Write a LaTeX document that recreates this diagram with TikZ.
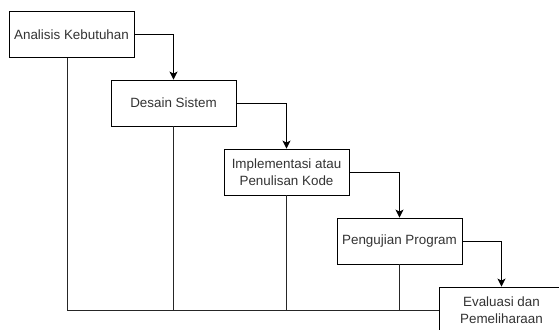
\documentclass[tikz,border=0pt]{standalone}
\usepackage{fontspec}
\setmainfont{Liberation Sans}
\usetikzlibrary{arrows.meta}
\begin{document}
\begin{tikzpicture}[x=1pt,y=-1pt,
  stage/.style={draw=black, line width=0.9pt, fill=white, minimum width=125pt,
    minimum height=46pt, inner sep=0pt, align=center, text=black!80,
    font=\fontsize{13.4}{17}\selectfont},
  flow/.style={draw=black, line width=0.9pt,
    -{Stealth[length=8pt,width=8pt,inset=2pt]}},
  link/.style={draw=black!85, line width=0.9pt}]
  % page frame
  \fill[white] (0,0) rectangle (559,329);
  \useasboundingbox (0,0) rectangle (559,329);
  \clip (0,0) rectangle (559,329);

  % lines from every stage down to the last one
  \coordinate (base) at (67,310);
  \node[stage] (b1) at (71.5,34.5) {Analisis Kebutuhan};
  \node[stage] (b2) at (173.5,103) {Desain Sistem};
  \node[stage] (b3) at (286.5,172) {Implementasi atau\\Penulisan Kode};
  \node[stage] (b4) at (399.5,241) {Pengujian Program};
  \node[stage] (b5) at (501.5,310) {Evaluasi dan\\Pemeliharaan};

  \draw[link] (b1.south -| base) -- (base) -- (b5.west);
  \draw[link] (b2.south) -- (b2.south |- base);
  \draw[link] (b3.south) -- (b3.south |- base);
  \draw[link] (b4.south) -- (b4.south |- base);

  % stage to stage
  \draw[flow] (b1.east) -| (b2.north);
  \draw[flow] (b2.east) -| (b3.north);
  \draw[flow] (b3.east) -| (b4.north);
  \draw[flow] (b4.east) -| (b5.north);
\end{tikzpicture}
\end{document}
